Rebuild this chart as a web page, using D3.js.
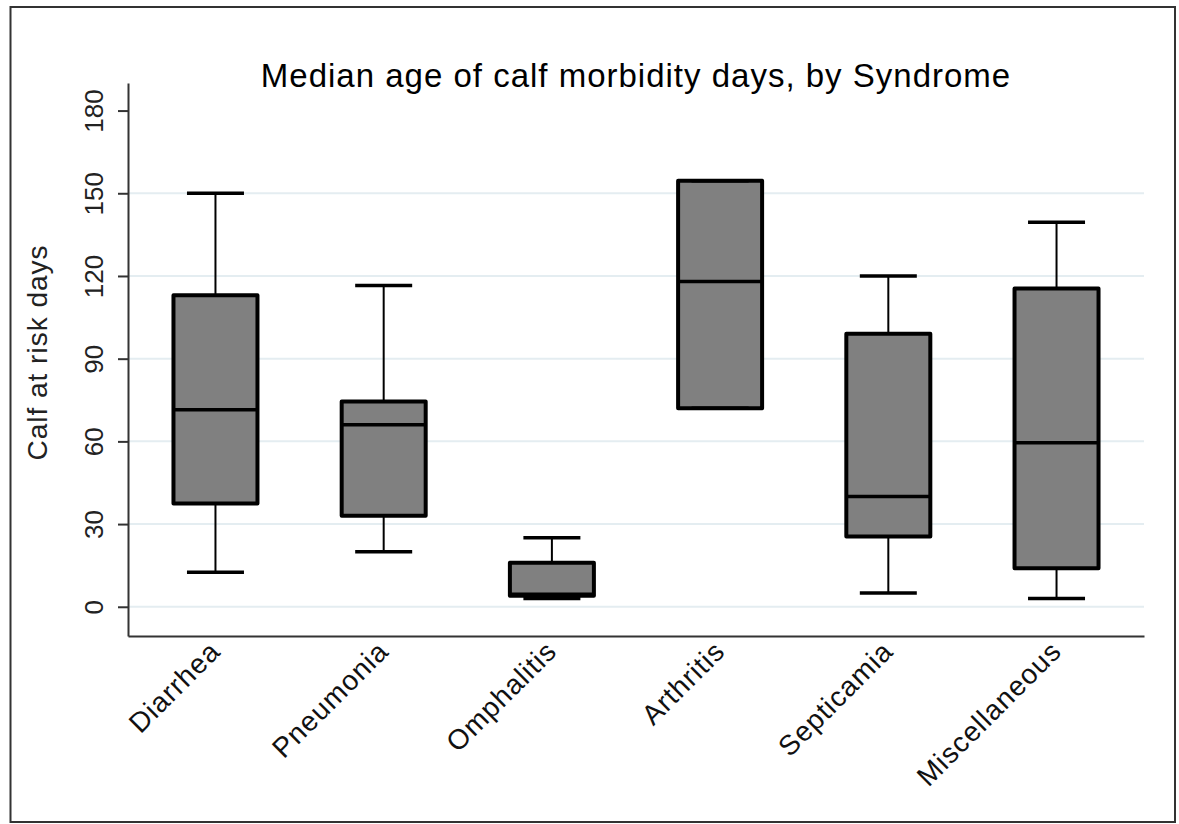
<!DOCTYPE html>
<html>
<head>
<meta charset="utf-8">
<script src="https://cdn.jsdelivr.net/npm/d3@7"></script>
<style>
  html, body { margin: 0; padding: 0; background: #fff; }
  text { font-family: Arial, "Liberation Sans", sans-serif; }
</style>
</head>
<body>
<div id="chart"></div>
<script>
// box plot summary values (days)
const syndromes = ['Diarrhea', 'Pneumonia', 'Omphalitis', 'Arthritis', 'Septicamia', 'Miscellaneous'];
const lowerAdj = [12.5, 20, 3, 72, 5, 3];
const q1 = [37.5, 33, 4, 72, 25.5, 14];
const median = [71.5, 66, 4.5, 118, 40, 59.5];
const q3 = [113, 74.5, 16, 154.5, 99, 115.5];
const upperAdj = [150, 116.5, 25, 154.5, 120, 139.5];
const yTicks = [0, 30, 60, 90, 120, 150, 180];

const width = 1179;
const height = 824;
const margin = { top: 83, right: 35, bottom: 188, left: 128 };

const svg = d3
  .select('#chart')
  .append('svg')
  .attr('width', width)
  .attr('height', height);

// outer frame
svg
  .append('rect')
  .attr('x', 10.5)
  .attr('y', 7)
  .attr('width', 1164.5)
  .attr('height', 815)
  .attr('fill', '#fff')
  .attr('stroke', '#333')
  .attr('stroke-width', 2);

const x = d3
  .scalePoint()
  .domain(syndromes)
  .range([margin.left, width - margin.right])
  .padding(0.52);

const y = d3
  .scaleLinear()
  .domain([-10.6, 190])
  .range([height - margin.bottom, margin.top]);

const boxW = 84;
const capW = 57;

// grid lines
svg
  .append('g')
  .selectAll('line')
  .data(yTicks.filter((d) => d < 180))
  .join('line')
  .attr('x1', margin.left)
  .attr('x2', x.range()[1])
  .attr('y1', (d) => y(d))
  .attr('y2', (d) => y(d))
  .attr('stroke', '#e4edf1')
  .attr('stroke-width', 2);

// y axis
const yAxis = svg
  .append('g')
  .attr('transform', `translate(${margin.left},0)`)
  .call(d3.axisLeft(y).tickValues(yTicks).tickSize(10).tickSizeOuter(0));
yAxis.select('.domain').attr('stroke', '#333').attr('stroke-width', 2);
yAxis.selectAll('.tick line').attr('stroke', '#333').attr('stroke-width', 2);
yAxis
  .selectAll('.tick text')
  .attr('transform', 'rotate(-90)')
  .attr('x', 0)
  .attr('y', -25)
  .attr('dy', 0)
  .attr('text-anchor', 'middle')
  .attr('font-size', 26)
  .attr('font-family', 'Arial, "Liberation Sans", sans-serif')
  .attr('fill', '#222');

// x axis
const xAxis = svg
  .append('g')
  .attr('transform', `translate(0,${height - margin.bottom})`)
  .call(d3.axisBottom(x).tickSize(0).tickSizeOuter(0));
xAxis.select('.domain').attr('stroke', '#333').attr('stroke-width', 2);
xAxis
  .selectAll('.tick text')
  .attr('y', 0)
  .attr('dy', 0)
  .attr('transform', 'translate(6,17) rotate(-45)')
  .attr('text-anchor', 'end')
  .attr('font-size', 28)
  .attr('letter-spacing', 1)
  .attr('font-family', 'Arial, "Liberation Sans", sans-serif')
  .attr('fill', '#111');

const rows = syndromes.map((s, i) => ({
  name: s,
  lo: lowerAdj[i],
  q1: q1[i],
  med: median[i],
  q3: q3[i],
  hi: upperAdj[i],
}));

const box = svg
  .append('g')
  .selectAll('g')
  .data(rows)
  .join('g')
  .attr('transform', (d) => `translate(${x(d.name)},0)`);

// whiskers
box
  .append('line')
  .attr('y1', (d) => y(d.q3))
  .attr('y2', (d) => y(d.hi))
  .attr('stroke', '#000')
  .attr('stroke-width', 2);
box
  .append('line')
  .attr('y1', (d) => y(d.q1))
  .attr('y2', (d) => y(d.lo))
  .attr('stroke', '#000')
  .attr('stroke-width', 2);

// boxes
box
  .append('rect')
  .attr('x', -boxW / 2)
  .attr('width', boxW)
  .attr('y', (d) => y(d.q3))
  .attr('height', (d) => y(d.q1) - y(d.q3))
  .attr('fill', '#808080')
  .attr('stroke', '#000')
  .attr('stroke-width', 4)
  .attr('stroke-linejoin', 'round');

// medians
box
  .append('line')
  .attr('x1', -boxW / 2)
  .attr('x2', boxW / 2)
  .attr('y1', (d) => y(d.med))
  .attr('y2', (d) => y(d.med))
  .attr('stroke', '#000')
  .attr('stroke-width', 3.5);

// caps
box
  .selectAll('.cap')
  .data((d) => [d.lo, d.hi])
  .join('line')
  .attr('class', 'cap')
  .attr('x1', -capW / 2)
  .attr('x2', capW / 2)
  .attr('y1', (d) => y(d))
  .attr('y2', (d) => y(d))
  .attr('stroke', '#000')
  .attr('stroke-width', 3.5);

// title
svg
  .append('text')
  .attr('x', (margin.left + x.range()[1]) / 2)
  .attr('y', 87)
  .attr('text-anchor', 'middle')
  .attr('font-size', 33)
  .attr('letter-spacing', 1)
  .attr('fill', '#000')
  .text('Median age of calf morbidity days, by Syndrome');

// y axis title
svg
  .append('text')
  .attr('transform', `translate(47,${(margin.top + height - margin.bottom) / 2 - 7}) rotate(-90)`)
  .attr('text-anchor', 'middle')
  .attr('font-size', 28)
  .attr('letter-spacing', 1)
  .attr('fill', '#222')
  .text('Calf at risk days');
</script>
</body>
</html>
